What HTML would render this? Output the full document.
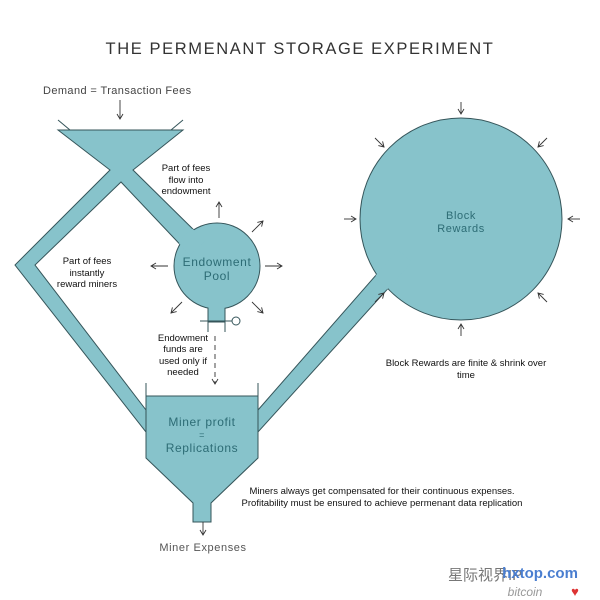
<!DOCTYPE html>
<html><head><meta charset="utf-8"><style>
html,body{margin:0;padding:0;background:#fff;}
svg{display:block;}
text{font-family:"Liberation Sans","Noto Sans CJK SC",sans-serif;}
</style></head><body>
<svg width="600" height="600" viewBox="0 0 600 600" xmlns="http://www.w3.org/2000/svg">
<defs>
<marker id="a" markerWidth="8" markerHeight="8" refX="6" refY="4" orient="auto" markerUnits="userSpaceOnUse">
<path d="M1,1 L6,4 L1,7" fill="none" stroke="#333" stroke-width="0.9"/>
</marker>
<clipPath id="cb"><circle cx="461" cy="219" r="102.5"/></clipPath>
<clipPath id="ce"><circle cx="217" cy="266" r="44.5"/></clipPath>
</defs>
<text x="300" y="54" text-anchor="middle" font-size="16.5" letter-spacing="1.6" fill="#333">THE PERMENANT STORAGE EXPERIMENT</text>
<text x="43" y="94" font-size="11" fill="#444" letter-spacing="0.4">Demand = Transaction Fees</text>
<line x1="120" y1="100" x2="120" y2="119" stroke="#333" stroke-width="0.9" marker-end="url(#a)"/>

<g fill="#87c3cb" stroke="#35555a" stroke-width="1">
<polygon points="58,130 183,130 133,170 205,241 190,255 121,182 35,265 146,410 146,432 15,265 110,170"/>
<polygon points="258,410 398,250 412,262 258,432"/>
<polygon points="146,396 258,396 258,458 211,503 211,522 193,522 193,503 146,458"/>
<rect x="208" y="295" width="17" height="27"/>
<circle cx="217" cy="266" r="43"/>
<circle cx="461" cy="219" r="101"/>
</g>
<g fill="#87c3cb" stroke="none">
<polygon clip-path="url(#ce)" points="133,170 205,241 190,255 121,182"/>
<rect clip-path="url(#ce)" x="208.5" y="290" width="16" height="30"/>
<polygon clip-path="url(#cb)" points="258,410 398,250 412,262 258,432"/>
</g>
<line x1="58" y1="120" x2="70" y2="130" stroke="#35555a"/>
<line x1="183" y1="120" x2="171" y2="130" stroke="#35555a"/>
<rect x="146.5" y="397" width="111" height="60" fill="#87c3cb"/>
<line x1="146" y1="383" x2="146" y2="410" stroke="#35555a"/>
<line x1="258" y1="383" x2="258" y2="410" stroke="#35555a"/>
<line x1="200" y1="321" x2="232" y2="321" stroke="#35555a"/>
<circle cx="236" cy="321" r="4" fill="#fff" stroke="#35555a"/>
<line x1="208" y1="321" x2="208" y2="332" stroke="#35555a"/>
<line x1="225" y1="321" x2="225" y2="332" stroke="#35555a"/>

<g stroke="#333" stroke-width="0.9" fill="none" marker-end="url(#a)">
<line x1="219" y1="218" x2="219" y2="202"/>
<line x1="252" y1="232" x2="263" y2="221"/>
<line x1="265" y1="266" x2="282" y2="266"/>
<line x1="168" y1="266" x2="151" y2="266"/>
<line x1="182" y1="302" x2="171" y2="313"/>
<line x1="252" y1="302" x2="263" y2="313"/>
<line x1="461" y1="102" x2="461" y2="114"/>
<line x1="375" y1="138" x2="384" y2="147"/>
<line x1="547" y1="138" x2="538" y2="147"/>
<line x1="344" y1="219" x2="356" y2="219"/>
<line x1="580" y1="219" x2="568" y2="219"/>
<line x1="375" y1="302" x2="384" y2="293"/>
<line x1="547" y1="302" x2="538" y2="293"/>
<line x1="461" y1="336" x2="461" y2="324"/>
<line x1="215" y1="336" x2="215" y2="384" stroke-dasharray="5,4"/>
<line x1="203" y1="522" x2="203" y2="535"/>
</g>

<g fill="#2d6c75" text-anchor="middle" letter-spacing="0.6">
<text x="217" y="266" font-size="12">Endowment</text>
<text x="217" y="280" font-size="12">Pool</text>
<text x="202" y="426" font-size="12">Miner profit</text>
<text x="202" y="438" font-size="9">=</text>
<text x="202" y="452" font-size="12">Replications</text>
<text x="461" y="219" font-size="11">Block</text>
<text x="461" y="232" font-size="11">Rewards</text>
</g>
<g fill="#111" text-anchor="middle" font-size="9.5">
<text x="186" y="171">Part of fees</text>
<text x="186" y="183">flow into</text>
<text x="186" y="194">endowment</text>
<text x="87" y="264">Part of fees</text>
<text x="87" y="276">instantly</text>
<text x="87" y="287">reward miners</text>
<text x="183" y="341">Endowment</text>
<text x="183" y="352">funds are</text>
<text x="183" y="364">used only if</text>
<text x="183" y="375">needed</text>
<text x="466" y="366">Block Rewards are finite &amp; shrink over</text>
<text x="466" y="378">time</text>
<text x="382" y="494">Miners always get compensated for their continuous expenses.</text>
<text x="382" y="506">Profitability must be ensured to achieve permenant data replication</text>
</g>
<text x="203" y="551" text-anchor="middle" font-size="11" fill="#555" letter-spacing="0.6">Miner Expenses</text>
<text x="448" y="580" font-size="15" fill="#777">星际视界IP</text>
<text x="540" y="578" text-anchor="middle" font-size="15" font-weight="bold" fill="#4a7ed0">hxtop.com</text>
<text x="525" y="596" text-anchor="middle" font-size="12" font-style="italic" fill="#999">bitcoin</text>
<text x="575" y="596" text-anchor="middle" font-size="13" fill="#d33">♥</text>
</svg>
</body></html>
